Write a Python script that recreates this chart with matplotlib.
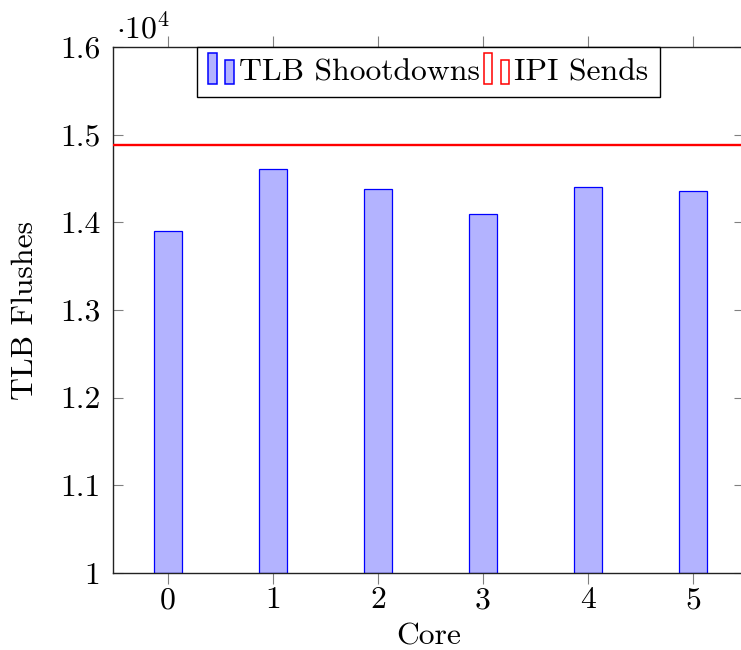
import matplotlib
matplotlib.use("Agg")
import matplotlib.pyplot as plt
from matplotlib.patches import Rectangle
from matplotlib.legend_handler import HandlerBase
from matplotlib.transforms import offset_copy

plt.rcParams['font.family'] = ['cmr10']
plt.rcParams['mathtext.fontset'] = 'cm'
plt.rcParams['axes.formatter.use_mathtext'] = True

cores = [0, 1, 2, 3, 4, 5]
tlb_shootdowns = [13900, 14605, 14377, 14091, 14400, 14357]
ipi_sends = 14880
ytick_values = [10000, 11000, 12000, 13000, 14000, 15000, 16000]
ytick_labels = ["1", "1.1", "1.2", "1.3", "1.4", "1.5", "1.6"]

bar_fill = '#b3b3ff'
bar_edge = '#0000ff'
red = '#ff0000'
FS = 22.8

fig = plt.figure(figsize=(7.41, 6.5), dpi=100)
W, H = 741, 650
left, right, bottom, top = 113, 744, 573, 47
ax = fig.add_axes([left / W, (H - bottom) / H, (right - left) / W, (bottom - top) / H])

ax.bar(cores, [v - 10000 for v in tlb_shootdowns], bottom=10000, width=0.26,
       color=bar_fill, edgecolor=bar_edge, linewidth=0.9, zorder=2)
ax.axhline(ipi_sends, color=red, linewidth=1.7, zorder=3)

ax.set_xlim(-0.524, 5.486)
ax.set_ylim(10000, 16000)
ax.set_xticks(cores)
ax.set_xticklabels([str(c) for c in cores])
ax.set_yticks(ytick_values)
ax.set_yticklabels(ytick_labels)
ax.tick_params(axis='x', direction='out', length=8, width=0.8, color='#808080',
               top=True, bottom=True, labelsize=FS, pad=2)
ax.tick_params(axis='y', direction='in', length=7.5, width=0.8, color='#808080',
               left=True, right=True, labelsize=FS, pad=9)
for s in ax.spines.values():
    s.set_color('#222222')
    s.set_linewidth(1.0)

ax.set_xlabel('Core', fontsize=FS, labelpad=6.5)
ax.set_ylabel('TLB Flushes', fontsize=FS, labelpad=15.5)
ax.text(0.0, 1.005, r'$\cdot 10^4$', fontsize=FS, ha='left', va='bottom',
        transform=offset_copy(ax.transAxes, fig=fig, x=3, y=0, units='dots'))


class TwoBarHandler(HandlerBase):
    def create_artists(self, legend, orig_handle, xdescent, ydescent, width,
                       height, fontsize, trans):
        fc = orig_handle.get_facecolor()
        ec = orig_handle.get_edgecolor()
        bw = width * 0.32
        h1 = height * 1.42
        h2 = height * 1.08
        y0 = -ydescent - height * 0.18
        r1 = Rectangle((-xdescent, y0), bw, h1, facecolor=fc, edgecolor=ec,
                       linewidth=1.1, transform=trans)
        r2 = Rectangle((-xdescent + width * 0.66, y0), bw, h2, facecolor=fc,
                       edgecolor=ec, linewidth=1.1, transform=trans)
        return [r1, r2]


h_bar = Rectangle((0, 0), 1, 1, facecolor=bar_fill, edgecolor=bar_edge)
h_ipi = Rectangle((0, 0), 1, 1, facecolor='none', edgecolor=red)
leg = ax.legend([h_bar, h_ipi], ['TLB Shootdowns', 'IPI Sends'],
                handler_map={Rectangle: TwoBarHandler()},
                loc='upper center', bbox_to_anchor=(0.5, 1.0), ncol=2,
                fontsize=FS, frameon=True, fancybox=False, framealpha=1,
                edgecolor='black', borderaxespad=0, handlelength=0.82,
                handletextpad=0.15, columnspacing=0.12, borderpad=0.35)
leg.get_frame().set_linewidth(1.0)

fig.savefig('out.png', dpi=100)
